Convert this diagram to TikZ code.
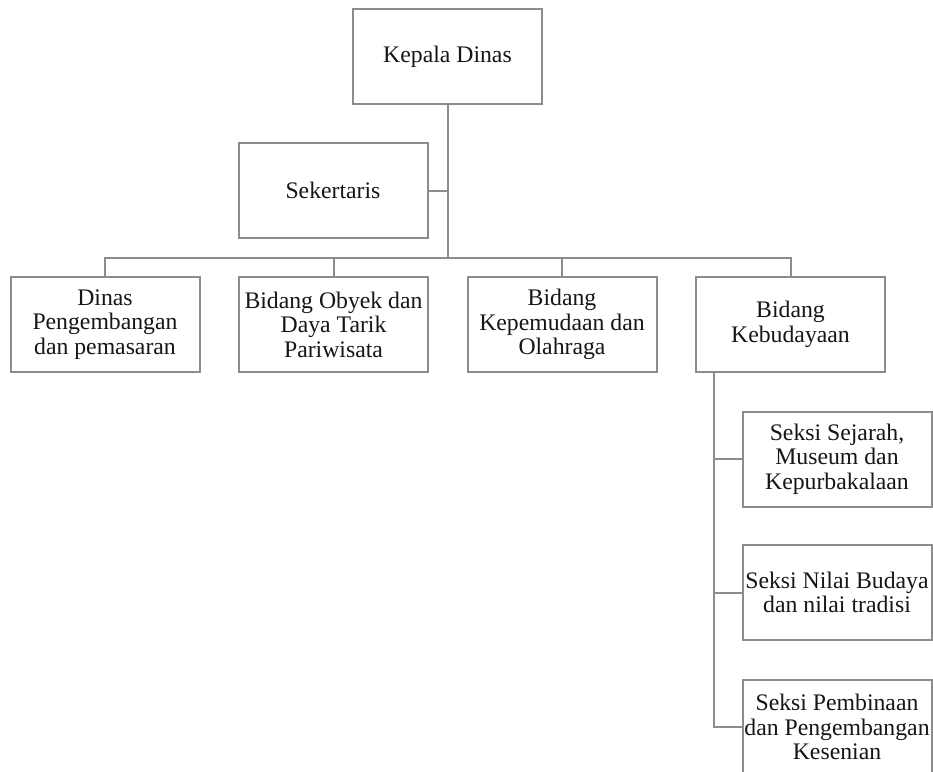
\documentclass[tikz,border=0pt]{standalone}
\usepackage{fontspec}
\setmainfont{Liberation Serif}
\usetikzlibrary{positioning}
\definecolor{linegray}{RGB}{140,140,140}
\definecolor{inkblack}{RGB}{25,20,25}

\begin{document}
\begin{tikzpicture}[x=0.75pt,y=-0.75pt,
	box/.style={draw=linegray,line width=1.5pt,fill=white,minimum width=141.75pt,minimum height=71.25pt,
		inner sep=0pt,align=center,text=inkblack,font=\fontsize{17.8}{18.4}\selectfont},
	link/.style={draw=linegray,line width=1.5pt}]
			\useasboundingbox (0,0) rectangle (933,772);
			% pimpinan
			\node[box] (kepala) at (447.5,56.5) {Kepala Dinas};
			\node[box] (sekretaris) at (333,190.5) {Sekertaris};
			\coordinate (hub) at (447.5,258);
			% bidang
			\node[box] (dinas) at (105,324.5) {Dinas\\Pengembangan\\dan pemasaran};
			\node[box] (obyek) at (333.5,324.5) {Bidang Obyek dan\\Daya Tarik\\Pariwisata};
			\node[box] (pemuda) at (562,324.5) {Bidang\\Kepemudaan dan\\Olahraga};
			\node[box] (budaya) at (790.5,324.5) {Bidang\\Kebudayaan};
			% seksi kebudayaan
			\node[box] (sejarah) at (837,459) {Seksi Sejarah,\\Museum dan\\Kepurbakalaan};
			\node[box] (nilai) at (837,592.5) {Seksi Nilai Budaya\\dan nilai tradisi};
			\node[box] (seni) at (837,727) {Seksi Pembinaan\\dan Pengembangan\\Kesenian};
			\coordinate (trunk) at ([xshift=14.25pt]budaya.south west);
			% garis
			\draw[link] (kepala.south) -- (hub);
			\draw[link] (sekretaris.east) -- (sekretaris.east -| hub);
			\draw[link] (dinas.north) |- (budaya.north |- hub) -- (budaya.north);
			\draw[link] (obyek.north) -- (obyek.north |- hub);
			\draw[link] (pemuda.north) -- (pemuda.north |- hub);
			\draw[link] (trunk) |- (seni.west);
			\draw[link] (sejarah.west) -- (sejarah.west -| trunk);
			\draw[link] (nilai.west) -- (nilai.west -| trunk);
\end{tikzpicture}
\end{document}
